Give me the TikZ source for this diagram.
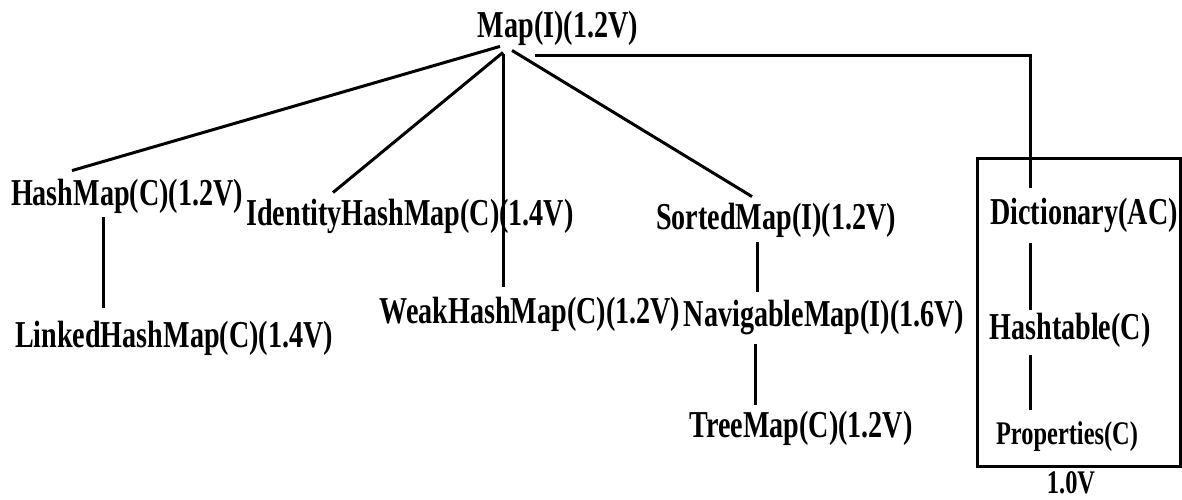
\documentclass[tikz,border=0pt]{standalone}
\usepackage{fontspec}
\setmainfont[FakeStretch=0.74]{Liberation Serif}
\begin{document}
\begin{tikzpicture}[x=1pt,y=-1pt,
	cls/.style={font=\fontsize{38}{40}\selectfont\bfseries, inner sep=0pt},
	small/.style={font=\fontsize{33}{35}\selectfont\bfseries, inner sep=0pt},
	link/.style={line width=3pt}]
	\useasboundingbox (0,0) rectangle (1182,500);

	\node[cls] (map) at (558,28) {Map(I)(1.2V)};
	\node[cls] (hash) at (127,196) {HashMap(C)(1.2V)};
	\node[cls] (identity) at (410,216) {IdentityHashMap(C)(1.4V)};
	\node[cls] (weak) at (530,314) {WeakHashMap(C)(1.2V)};
	\node[cls] (linked) at (174,338) {LinkedHashMap(C)(1.4V)};
	\node[cls] (sorted) at (776,220) {SortedMap(I)(1.2V)};
	\node[cls] (nav) at (824,318) {NavigableMap(I)(1.6V)};
	\node[cls] (tree) at (801,428) {TreeMap(C)(1.2V)};
	\node[cls] (dict) at (1084,215) {Dictionary(AC)};
	\node[cls] (hashtable) at (1070,330) {Hashtable(C)};
	\node[small] (props) at (1067,437) {Properties(C)};
	\node[small] (ver) at (1071,483) {1.0V};

	\draw[link] ([xshift=-58pt,yshift=-1pt]map.south) -- ([xshift=-55pt,yshift=8pt]hash.north);
	\draw[link] ([xshift=-55pt,yshift=-7pt]map.south) -- ([xshift=-77pt,yshift=6pt]identity.north);
	\draw[link] ([xshift=-55pt,yshift=-9pt]map.south) -- ([xshift=-27pt,yshift=10pt]weak.north);
	\draw[link] ([xshift=-46pt,yshift=-5pt]map.south) -- ([xshift=-24pt,yshift=6pt]sorted.north);
	\draw[link] ([xshift=-23pt,yshift=-10pt]map.south) -| ([xshift=-54pt,yshift=10pt]dict.north);

	\draw[link] ([xshift=-24pt,yshift=-4pt]hash.south) -- ([xshift=-71pt,yshift=13pt]linked.north);
	\draw[link] ([xshift=-19pt,yshift=-5pt]sorted.south) -- ([xshift=-67pt,yshift=8pt]nav.north);
	\draw[link] ([xshift=-69pt,yshift=-8pt]nav.south) -- ([xshift=-46pt,yshift=6pt]tree.north);
	\draw[link] ([xshift=-54pt,yshift=-11pt]dict.south) -- ([xshift=-40pt,yshift=3pt]hashtable.north);
	\draw[link] ([xshift=-40pt,yshift=-8pt]hashtable.south) -- ([xshift=-37pt,yshift=12pt]props.north);

	% frame round the legacy classes
	\draw[link] (977,158) rectangle (1180,466);
\end{tikzpicture}
\end{document}
